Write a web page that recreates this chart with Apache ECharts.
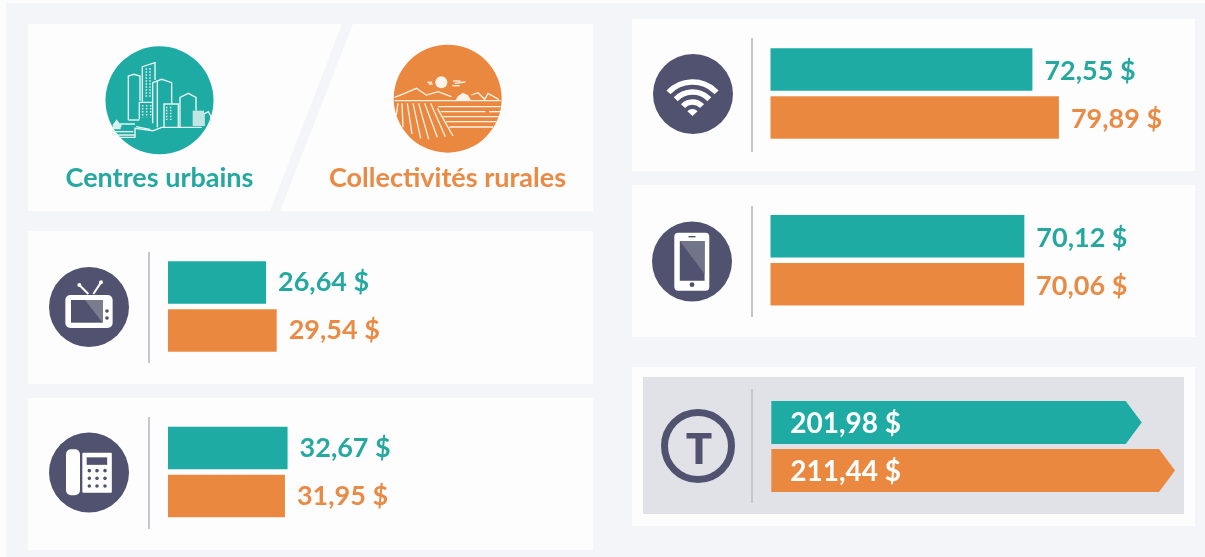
<!DOCTYPE html>
<html><head><meta charset="utf-8">
<style>html,body{margin:0;padding:0;background:#fcfcfd}#c{width:1205px;height:557px}</style>
<script src="https://cdn.jsdelivr.net/npm/echarts@6/dist/echarts.min.js"></script>
</head><body><div id="c"></div>
<script>
const categories = ['Centres urbains', 'Collectivités rurales'];
const panelNames = ['Télévision', 'Téléphone résidentiel', 'Internet', 'Téléphone mobile', 'Total'];
const urbanCosts = [26.64, 32.67, 72.55, 70.12, 201.98];
const ruralCosts = [29.54, 31.95, 79.89, 70.06, 211.44];

const TEAL = '#1eaba3', ORANGE = '#ea8840', TEAL_T = '#25a89f', ORANGE_T = '#e98a45';
const NAVY = '#50526f', FONT = 'Lato, "Open Sans", sans-serif';
const barColors = [TEAL, ORANGE], textColors = [TEAL_T, ORANGE_T];

const fmt = v => v.toFixed(2).replace('.', ',') + ' $';

/* layout of each bar panel: [grid left, grid top, px per unit, axis min, label dy] */
const layouts = [
  [168, 258.5, 3.68, 0, 0],
  [168, 424, 3.66, 0, 0],
  [770.5, 45.5, 3.61, 0, 1.5],
  [770.5, 212.3, 3.62, 0, 1.5],
  [771.3, 398.4, 3.52, 96.75, 0]
];
const gridW = 420;

const grids = [], xAxes = [], yAxes = [], series = [];
layouts.forEach((l, i) => {
  grids.push({left: l[0], top: l[1], width: gridW, height: 96, outerBoundsMode: 'none'});
  xAxes.push({type: 'value', gridIndex: i, min: l[3], max: l[3] + gridW / l[2], show: false});
  yAxes.push({type: 'category', gridIndex: i, data: categories, inverse: true, show: false});
  const vals = [urbanCosts[i], ruralCosts[i]];
  if (i < 4) {
    series.push({
      type: 'bar', name: panelNames[i], xAxisIndex: i, yAxisIndex: i, barWidth: 42.5, z: 5, silent: true,
      data: vals.map((v, k) => ({
        value: v,
        itemStyle: {color: barColors[k]},
        label: {color: textColors[k]}
      })),
      label: {show: true, position: 'right', distance: 12, offset: [0, l[4]], fontFamily: FONT, fontWeight: 'bold', fontSize: 27,
        formatter: p => fmt(p.value)}
    });
  } else {
    series.push({
      type: 'custom', name: panelNames[i], xAxisIndex: i, yAxisIndex: i, z: 5, silent: true,
      data: vals.map((v, k) => [v, k]),
      encode: {x: 0, y: 1},
      renderItem: (params, api) => {
        const v = api.value(0), k = api.value(1);
        const tip = api.coord([v, k]), base = api.coord([l[3], k]);
        const h = 21.5, notch = 16;
        return {type: 'group', children: [
          {type: 'polygon', shape: {points: [[base[0], tip[1] - h], [tip[0] - notch, tip[1] - h], [tip[0], tip[1]],
            [tip[0] - notch, tip[1] + h], [base[0], tip[1] + h]]}, style: {fill: barColors[k]}},
          {type: 'text', x: base[0] + 19, y: tip[1] + 2, style: {text: fmt(v), fill: '#fff',
            font: 'bold 28px ' + FONT, textAlign: 'left', textVerticalAlign: 'middle'}}
        ]};
      }
    });
  }
});

/* ---------- decorative graphics ---------- */
const g = [];
const rect = (x, y, w, h, fill, r, z) => g.push({type: 'rect', z: z || 1, shape: {x, y, width: w, height: h, r: r || 0}, style: {fill}, silent: true});
const circ = (cx, cy, r, fill, z) => g.push({type: 'circle', z: z || 2, shape: {cx, cy, r}, style: {fill}, silent: true});
const poly = (pts, fill, z) => g.push({type: 'polygon', z: z || 3, shape: {points: pts}, style: {fill}, silent: true});
const line = (pts, stroke, w, z) => g.push({type: 'polyline', z: z || 3, shape: {points: pts}, style: {stroke, lineWidth: w, fill: null}, silent: true});
const txt = (x, y, t, fill, size) => g.push({type: 'text', z: 3, x, y, style: {text: t, fill, font: 'bold ' + size + 'px ' + FONT, textAlign: 'center', textVerticalAlign: 'middle'}, silent: true});

rect(6, 3, 1199, 554, '#f4f5f9', 0, 0);
const PANEL = '#fdfdfe', SEP = '#c6c7cc';
/* header panel with slanted gap */
poly([[28, 24], [342, 24], [270, 211], [28, 211]], PANEL, 1);
poly([[353, 24], [593, 24], [593, 211], [280, 211]], PANEL, 1);
rect(28, 231, 565, 153, PANEL);
rect(28, 398, 565, 152, PANEL);
rect(632, 19, 563, 152, PANEL);
rect(632, 185, 563, 152, PANEL);
rect(632, 367, 563, 159, PANEL);
rect(643, 377, 541, 137, '#e0e2e7');
[[149, 252, 363], [149, 417, 529], [752, 38, 152], [752, 206, 317], [752, 389, 503]].forEach(s =>
  line([[s[0], s[1]], [s[0], s[2]]], SEP, 2));

txt(159.5, 178, categories[0], TEAL_T, 27);
txt(447.5, 178, categories[1], ORANGE_T, 27);

/* city icon */
const cz = p => p.map(q => [100 + q[0] / 3, 40 + q[1] / 3]);
circ(159.5, 100.3, 54, TEAL);
const W = '#e4f6f4';
[
  [[85,240],[85,108],[102,103],[120,108],[120,182]],
  [[127,185],[127,80],[165,68],[165,120]],
  [[158,250],[158,128],[185,118],[215,128],[215,192]],
  [[172,122],[172,262]],
  [[240,262],[240,172],[265,160],[288,172],[288,212]],
  [[118,238],[118,187],[158,187]],
  [[192,262],[192,192],[235,192],[235,262]],
  [[85,240],[118,240]],
  [[62,262],[62,252],[105,252]],
  [[38,270],[38,285],[105,285]],
  [[58,292],[105,292],[105,265],[160,272],[185,262],[305,262]],
  [[108,260],[150,268]],
  [[40,275],[100,275]],
  [[312,258],[312,222],[325,215],[332,228],[332,255]],
].forEach(p => line(cz(p), W, 1.4));
poly(cz([[278,212],[312,212],[312,258],[278,258]]), '#bfe6e2');
poly(cz([[38,268],[38,254],[50,238],[62,254],[62,268]]), '#d5f0ed');
[[139,85,170],[150,85,170],[128,195,232],[140,195,232],[152,195,232],[200,200,240],[212,200,240]].forEach(d =>
  g.push({type: 'line', z: 3, shape: {x1: 100 + d[0] / 3, y1: 40 + d[1] / 3, x2: 100 + d[0] / 3, y2: 40 + d[2] / 3},
    style: {stroke: W, lineWidth: 1.5, lineDash: [1.5, 1.5]}, silent: true}));

/* rural icon */
const oz = p => p.map(q => [388 + q[0] / 3, 40 + q[1] / 3]);
circ(447.7, 98.7, 54, ORANGE);
const Wo = '#fff3e9';
circ(388 + 160 / 3, 40 + 127 / 3, 6, Wo, 3);
poly(oz([[202,182],[210,168],[225,158],[240,166],[250,182]]), Wo);
[
  [[20,172],[50,160],[85,145],[115,165],[150,155],[190,170]],
  [[250,165],[270,158],[290,178],[300,160],[332,178]],
  [[20,182],[338,182]],
  [[30,190],[25,225]],[[42,190],[45,262]],[[58,190],[72,282]],[[75,190],[98,295]],
  [[92,190],[122,298]],[[110,190],[148,292]],[[128,190],[172,290]],[[148,205],[195,288]],
  [[150,200],[338,200]],[[158,215],[292,215]],[[303,215],[336,215]],[[166,230],[332,230]],
  [[175,245],[325,245]],[[184,261],[315,261]],
  [[118,127],[132,127]],[[122,132],[134,132]],[[195,123],[218,123]],[[200,130],[232,126]],[[193,137],[215,137]]
].forEach(p => line(oz(p), Wo, 1.3));

/* TV icon */
const tv = p => [20 + p[0] / 3, 230 + p[1] / 3];
circ(89, 307, 40, NAVY);
rect(...tv([136, 195]), 47.3, 33, '#fff', 5, 3);
rect(...tv([153, 210]), 31.7, 22.7, NAVY, 0, 4);
poly([tv([195, 210]), tv([248, 210]), tv([248, 278])], '#7b7c90', 5);
circ(...tv([261, 243]), 1.8, NAVY, 4);
circ(...tv([261, 264]), 1.8, NAVY, 4);
line([tv([205, 192]), tv([178, 165])], '#fff', 2);
line([tv([220, 192]), tv([243, 157])], '#fff', 2);
circ(...tv([178, 165]), 2, '#fff', 3);
circ(...tv([243, 157]), 2, '#fff', 3);

/* desk phone icon */
circ(89, 472.5, 40, NAVY);
rect(...tv([138, 658]), 14, 46, '#fff', 5, 3);
rect(...tv([187, 668]), 29.5, 40, '#fff', 1, 3);
rect(...tv([200, 682]), 20.5, 7.5, NAVY, 0, 4);
[722, 745, 768].forEach(y => [208, 231, 255].forEach(x => circ(...tv([x, y]), 1.8, NAVY, 4)));

/* wifi icon */
circ(693, 94, 40, NAVY);
[33, 23, 13].forEach(r => g.push({type: 'arc', z: 3, silent: true,
  shape: {cx: 692.5, cy: 115, r, startAngle: -Math.PI * 0.76, endAngle: -Math.PI * 0.24, clockwise: true},
  style: {stroke: '#fff', fill: null, lineWidth: 5.5, lineCap: 'butt'}}));
g.push({type: 'sector', z: 3, silent: true,
  shape: {cx: 692.5, cy: 116, r: 7, startAngle: -Math.PI * 0.76, endAngle: -Math.PI * 0.24, clockwise: true},
  style: {fill: '#fff'}});

/* smartphone icon */
circ(692, 261.5, 40, NAVY);
rect(674.3, 232.7, 35, 58, '#fff', 4, 3);
rect(679.8, 241, 24.8, 39.7, NAVY, 0, 4);
poly([[679.8, 241], [704.6, 241], [704.6, 274]], '#727489', 5);
rect(688.5, 236, 7, 1.4, NAVY, 0, 4);
circ(692, 284.7, 2.4, NAVY, 4);

/* total icon */
g.push({type: 'circle', z: 3, silent: true, shape: {cx: 698, cy: 446, r: 33.5}, style: {fill: null, stroke: NAVY, lineWidth: 7}});
rect(686.5, 433, 25, 5.5, NAVY, 0, 3);
rect(695.5, 433, 7, 31, NAVY, 0, 3);

const chart = echarts.init(document.getElementById('c'), null, {renderer: 'canvas'});
chart.setOption({
  animation: false,
  backgroundColor: '#fcfcfd',
  tooltip: {show: false},
  grid: grids, xAxis: xAxes, yAxis: yAxes, series,
  graphic: {elements: g}
});
</script></body></html>
